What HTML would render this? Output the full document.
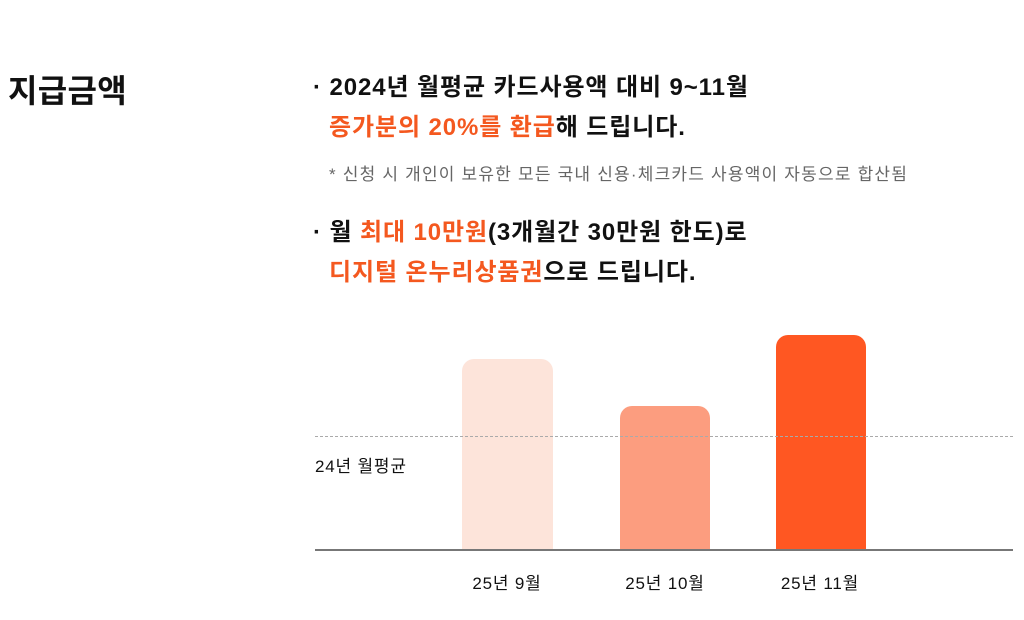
<!DOCTYPE html>
<html><head><meta charset="utf-8"><style>
body{margin:0;width:1024px;height:620px;background:#fff;position:relative;overflow:hidden;font-family:"Liberation Sans","Noto Sans CJK KR",sans-serif;color:#111}
.a{position:absolute;white-space:nowrap}
.b{font-weight:bold;font-size:24px;letter-spacing:0.9px}
.o{color:#f4581f}
.bar{position:absolute;border-radius:12px 12px 0 0}
</style></head><body>
<div class="a" style="left:8px;top:66px;font-size:32px;font-weight:bold;letter-spacing:0.3px">지급금액</div>
<div class="a b" style="left:313px;top:67px">· 2024년 월평균 카드사용액 대비 9~11월</div>
<div class="a b" style="left:329px;top:107px"><span class="o">증가분의 20%를 환급</span>해 드립니다.</div>
<div class="a" style="left:329px;top:160px;font-size:17px;letter-spacing:1.2px;color:#666">* 신청 시 개인이 보유한 모든 국내 신용·체크카드 사용액이 자동으로 합산됨</div>
<div class="a b" style="left:313px;top:212px">· 월 <span class="o">최대 10만원</span>(3개월간 30만원 한도)로</div>
<div class="a b" style="left:329px;top:252px"><span class="o">디지털 온누리상품권</span>으로 드립니다.</div>
<div class="bar" style="left:462px;top:359px;width:91px;height:191px;background:#fde4da"></div>
<div class="bar" style="left:620px;top:406px;width:90px;height:144px;background:#fc9d7f"></div>
<div class="bar" style="left:776px;top:335px;width:90px;height:215px;background:#ff5722"></div>
<div class="a" style="left:315px;top:436px;width:698px;border-top:1.5px dashed #aaa"></div>
<div class="a" style="left:315px;top:549px;width:698px;height:2px;background:#777"></div>
<div class="a" style="left:315px;top:452px;font-size:17px;letter-spacing:0.8px">24년 월평균</div>
<div class="a" style="left:457px;top:569px;width:100px;text-align:center;font-size:17px;letter-spacing:0.8px">25년 9월</div>
<div class="a" style="left:615px;top:569px;width:100px;text-align:center;font-size:17px;letter-spacing:0.8px">25년 10월</div>
<div class="a" style="left:770px;top:569px;width:100px;text-align:center;font-size:17px;letter-spacing:0.8px">25년 11월</div>
</body></html>
